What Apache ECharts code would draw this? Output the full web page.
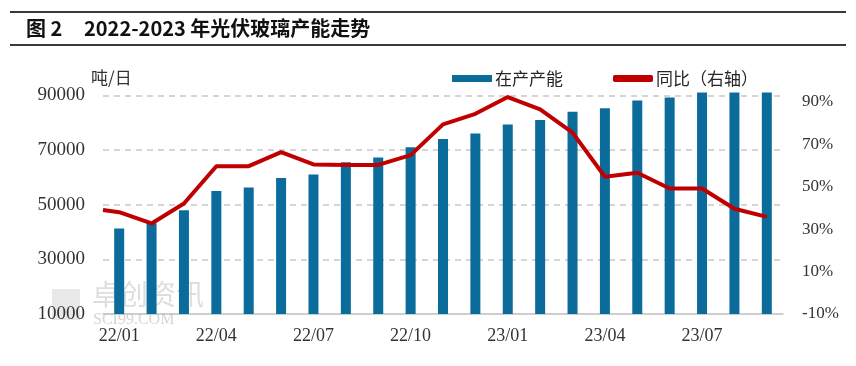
<!DOCTYPE html>
<html>
<head>
<meta charset="utf-8">
<script src="https://cdn.jsdelivr.net/npm/echarts@6/dist/echarts.min.js"></script>
<style>
html,body{margin:0;padding:0;background:#fff;}
#chart{width:856px;height:366px;}
</style>
</head>
<body>
<div id="chart"></div>
<script>
const months = ['22/01','22/02','22/03','22/04','22/05','22/06','22/07','22/08','22/09','22/10','22/11','22/12',
                '23/01','23/02','23/03','23/04','23/05','23/06','23/07','23/08','23/09'];
const capacity = [41300, 43200, 48000, 55000, 56300, 59800, 61000, 65500, 67300, 71000, 74000, 76000,
                  79300, 81000, 84000, 85300, 88100, 89200, 91000, 91000, 91000];
const yoy = [38.0, 32.7, 42.1, 59.7, 59.7, 66.3, 60.5, 60.3, 60.3, 64.9, 79.4, 84.4,
             92.3, 86.5, 75.5, 54.7, 56.6, 49.2, 49.2, 39.6, 35.8];
const yoyLeftEdge = 39.0;   // line value where it enters at the left edge of the plot
const seriesNames = ['在产产能', '同比（右轴）'];
const titleNo = '图 2';
const titleText = '2022-2023 年光伏玻璃产能走势';
const unitLabel = '吨/日';

const chart = echarts.init(document.getElementById('chart'), null, {renderer: 'canvas'});

const lineData = [[-0.5, yoyLeftEdge]].concat(yoy.map((v, i) => [i, v]));
const serif = '"Liberation Serif", "Times New Roman", serif';
const cjk = '"Noto Sans CJK SC", sans-serif';

chart.setOption({
  animation: false,
  backgroundColor: '#ffffff',
  grid: {left: 103, right: 73, top: 68, bottom: 52, containLabel: false},
  legend: {
    data: [{name: seriesNames[0], icon: 'rect'}, {name: seriesNames[1], icon: 'roundRect'}],
    left: 447, top: 65,
    itemWidth: 40, itemHeight: 7, itemGap: 50,
    textStyle: {fontFamily: cjk, fontSize: 17, color: '#262626', padding: [0, 0, 0, -2]}
  },
  xAxis: [{
    type: 'category',
    data: months,
    boundaryGap: true,
    axisLine: {show: true, onZero: false, lineStyle: {color: '#bfbfbf', width: 1.5}},
    axisTick: {show: false},
    axisLabel: {interval: 2, fontFamily: serif, fontSize: 18, color: '#333333', margin: 13}
  }, {
    type: 'value',
    min: -0.5, max: 20.5,
    show: false,
    axisLine: {show: false, onZero: false}
  }],
  yAxis: [{
    type: 'value',
    min: 10000, max: 100000, interval: 20000,
    axisLine: {show: false},
    axisTick: {show: false},
    axisLabel: {
      fontFamily: serif, fontSize: 19, color: '#333333', margin: 18,
      showMaxLabel: false,
      formatter: v => ((v - 10000) % 20000 === 0 ? String(v) : '')
    },
    splitLine: {show: true, showMinLine: false, showMaxLine: false,
      lineStyle: {color: '#c8c8c8', type: [6, 5], width: 1.5}}
  }, {
    type: 'value',
    min: -10, max: 106, interval: 20,
    position: 'right',
    axisLine: {show: false, onZero: false},
    axisTick: {show: false},
    splitLine: {show: false},
    axisLabel: {
      fontFamily: serif, fontSize: 17, color: '#333333', margin: 19,
      showMaxLabel: false,
      formatter: v => ((v + 10) % 20 === 0 ? v + '%' : '')
    }
  }],
  graphic: [
    {type: 'line', shape: {x1: 10, y1: 12, x2: 846, y2: 12}, style: {stroke: '#3a3a3a', lineWidth: 2}},
    {type: 'line', shape: {x1: 10, y1: 45, x2: 846, y2: 45}, style: {stroke: '#3a3a3a', lineWidth: 2}},
    {type: 'text', left: 26, top: 18, style: {text: titleNo, font: 'bold 20px ' + cjk, fill: '#111'}},
    {type: 'text', left: 84, top: 18, style: {text: titleText, font: 'bold 20px ' + cjk, fill: '#111'}},
    {type: 'text', left: 91, top: 69, style: {text: unitLabel, font: '17px ' + cjk, fill: '#333'}},
    {type: 'rect', z: -1, shape: {x: 52, y: 289, width: 28, height: 31}, style: {fill: '#e8e8e8'}},
    {type: 'text', z: -1, left: 92, top: 280, style: {text: '卓创资讯', font: '28px ' + cjk, fill: '#dedede'}},
    {type: 'text', z: -1, left: 93, top: 312, style: {text: 'SCI99.COM', font: '16px ' + serif, fill: '#d6d6d6'}}
  ],
  series: [{
    name: seriesNames[0],
    type: 'bar',
    xAxisIndex: 0, yAxisIndex: 0,
    data: capacity,
    barWidth: 10,
    itemStyle: {color: '#0B6C9C'}
  }, {
    name: seriesNames[1],
    type: 'line',
    xAxisIndex: 1, yAxisIndex: 1,
    data: lineData,
    symbol: 'none',
    lineStyle: {color: '#C00000', width: 4, join: 'round'},
    itemStyle: {color: '#C00000'},
    z: 3
  }]
});
</script>
</body>
</html>
